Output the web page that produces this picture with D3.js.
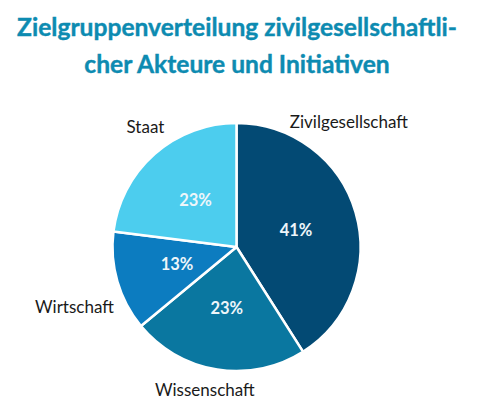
<!DOCTYPE html>
<html>
<head>
<meta charset="utf-8">
<script src="https://cdn.jsdelivr.net/npm/d3@7"></script>
<style>
  body { margin: 0; background: #ffffff; }
  svg { display: block; }
</style>
</head>
<body>
<div id="chart"></div>
<script>
const WIDTH = 483;
const HEIGHT = 413;

const titleLines = ["Zielgruppenverteilung zivilgesellschaftli-", "cher Akteure und Initiativen"];
const categories = ["Zivilgesellschaft", "Wissenschaft", "Wirtschaft", "Staat"];
const shares = [41, 23, 13, 23];
const colors = ["#034a74", "#0a77a0", "#0c7cc0", "#4ccdee"];

// where each outside label sits, relative to the pie (angle in degrees, radius factor)
const labelLayout = {
    "Zivilgesellschaft": { angle: 23, dist: 1.1, anchor: "start" },
    "Wissenschaft": { angle: 192.5, dist: 1.18, anchor: "middle" },
    "Wirtschaft": { angle: 244, dist: 1.1, anchor: "end" },
    "Staat": { angle: 329, dist: 1.13, anchor: "end" }
};

const CX = 236.5;
const CY = 247;
const RADIUS = 124;

const svg = d3.select("#chart")
    .append("svg")
    .attr("width", WIDTH)
    .attr("height", HEIGHT);

// Title
svg.append("text")
    .attr("x", 237)
    .attr("y", 36)
    .attr("text-anchor", "middle")
    .style("font-family", "Lato, sans-serif")
    .style("font-weight", "bold")
    .style("font-size", "24.6px")
    .style("fill", "#0d8bb1")
    .style("stroke", "#0d8bb1")
    .style("stroke-width", 0.4)
    .selectAll("tspan")
    .data(titleLines)
    .join("tspan")
    .attr("x", 237)
    .attr("dy", (d, i) => (i === 0 ? 0 : 37))
    .text((d) => d);

const data = categories.map((c, i) => ({ name: c, value: shares[i], color: colors[i] }));

const pie = d3.pie()
    .sort(null)
    .value((d) => d.value);

const arcs = pie(data);

const arc = d3.arc().innerRadius(0).outerRadius(RADIUS);
const centroidArc = d3.arc().innerRadius(0).outerRadius(RADIUS);

const g = svg.append("g")
    .attr("transform", `translate(${CX},${CY})`);

g.selectAll("path.slice")
    .data(arcs)
    .join("path")
    .attr("class", "slice")
    .attr("d", arc)
    .style("fill", (d) => d.data.color)
    .style("stroke", "#ffffff")
    .style("stroke-width", 2.5)
    .style("stroke-linejoin", "round");

// percent labels inside
g.selectAll("text.pct")
    .data(arcs)
    .join("text")
    .attr("class", "pct")
    .attr("x", (d) => centroidArc.centroid(d)[0])
    .attr("y", (d) => centroidArc.centroid(d)[1])
    .attr("dy", "0.36em")
    .attr("text-anchor", "middle")
    .style("font-family", "Lato, sans-serif")
    .style("font-weight", "bold")
    .style("font-size", "16.5px")
    .style("fill", "#eef6fa")
    .text((d) => d.data.value + "%");

// category labels outside
g.selectAll("text.cat")
    .data(arcs)
    .join("text")
    .attr("class", "cat")
    .each(function (d) {
        const l = labelLayout[d.data.name];
        const a = (l.angle * Math.PI) / 180;
        d3.select(this)
            .attr("x", Math.sin(a) * RADIUS * l.dist)
            .attr("y", -Math.cos(a) * RADIUS * l.dist)
            .attr("text-anchor", l.anchor);
    })
    .attr("dy", "0.36em")
    .style("font-family", "Lato, sans-serif")
    .style("font-size", "17px")
    .style("fill", "#1a1a1a")
    .text((d) => d.data.name);
</script>
</body>
</html>
